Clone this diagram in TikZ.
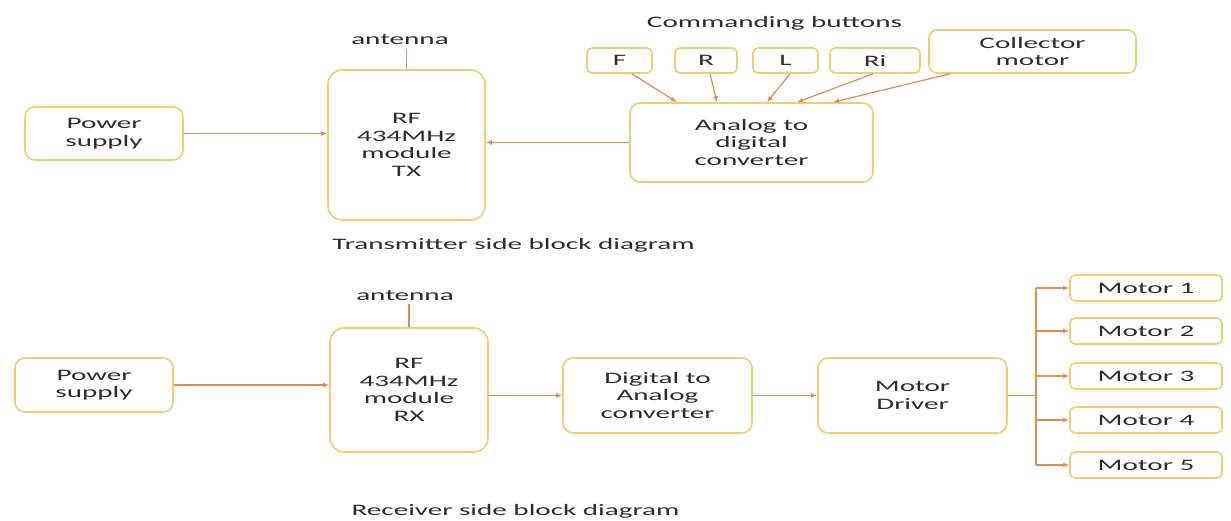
\documentclass[tikz,border=0pt]{standalone}
\usepackage{fontspec}
\setmainfont{Carlito}[FakeStretch=1.82]
\usetikzlibrary{arrows.meta,calc}
\definecolor{boxc}{RGB}{240,205,110}
\definecolor{arrc}{RGB}{226,140,80}
\definecolor{txt}{RGB}{45,45,45}
\begin{document}
\begin{tikzpicture}[x=1pt,y=-1pt,
  blk/.style={draw=boxc, line width=1.6pt, fill=white, rounded corners=10pt, align=center,
              text=txt, inner sep=0pt, font=\fontsize{16}{17.5}\selectfont},
  btn/.style={blk, rounded corners=5pt, minimum height=25pt},
  mot/.style={blk, rounded corners=5pt, minimum width=152pt, minimum height=26pt},
  lbl/.style={text=txt, inner sep=0pt, font=\fontsize{16}{17.5}\selectfont},
  wire/.style={draw=arrc, line width=1.2pt},
  conn/.style={wire, -{Latex[length=6pt,width=5pt]}}]
\fill[white] (0,0) rectangle (1231,521);
\useasboundingbox (0,0) rectangle (1231,521);

% ---------- Transmitter ----------
\node[blk, minimum width=158pt, minimum height=53pt] (ps1) at (104,133.5) {Power\\supply};
\node[blk, minimum width=157pt, minimum height=150pt, rounded corners=14pt] (rf1) at (406.5,145) {RF\\434MHz\\module\\TX};
\node[lbl] (ant1) at (400,40) {antenna};
\coordinate (a1) at ($(rf1.north)+(0,-20)$);
\draw[wire] (rf1.north) -- (a1);
\node[blk, minimum width=243pt, minimum height=79pt] (adc) at (751.5,142.5) {Analog to\\digital\\converter};
\node[btn, minimum width=65pt] (bF) at (619.5,60.5) {F};
\node[btn, minimum width=62pt] (bR) at (706,60.5) {R};
\node[btn, minimum width=65pt] (bL) at (785.5,60.5) {L};
\node[btn, minimum width=90pt] (bRi) at (875,60.5) {Ri};
\node[btn, minimum width=207pt, minimum height=43pt, rounded corners=8pt] (col) at (1032.5,51.5) {Collector\\motor};
\node[lbl] (cmd) at (774.5,23) {Commanding buttons};
\node[lbl] (cap1) at (513.5,245) {Transmitter side block diagram};

\draw[conn] (ps1.east) -- (ps1.east -| rf1.west);
\draw[conn] (adc.west) -- (adc.west -| rf1.east);
\draw[conn] ($(bF.south)+(12.5,0)$) -- ($(adc.north)+(-74.5,0)$);
\draw[conn] ($(bR.south)+(4,0)$) -- ($(adc.north)+(-34.5,0)$);
\draw[conn] ($(bL.south)+(4.5,0)$) -- ($(adc.north)+(15.5,0)$);
\draw[conn] ($(bRi.south)+(-2,0)$) -- ($(adc.north)+(45.5,0)$);
\draw[conn] ($(col.south)+(-82.5,0)$) -- ($(adc.north)+(81.5,0)$);

% ---------- Receiver ----------
\node[blk, minimum width=158pt, minimum height=54pt] (ps2) at (94,385) {Power\\supply};
\node[blk, minimum width=158pt, minimum height=124pt, rounded corners=14pt] (rf2) at (409,390) {RF\\434MHz\\module\\RX};
\node[lbl] (ant2) at (405,295) {antenna};
\coordinate (a2) at ($(rf2.north)+(0,-23)$);
\draw[wire] (rf2.north) -- (a2);
\node[blk, minimum width=189pt, minimum height=75pt] (dac) at (657.5,395.5) {Digital to\\Analog\\converter};
\node[blk, minimum width=189pt, minimum height=75pt] (md) at (912.5,395.5) {Motor\\Driver};
\node[mot] (m1) at (1146,288) {Motor 1};
\node[mot] (m2) at (1146,331) {Motor 2};
\node[mot] (m3) at (1146,376) {Motor 3};
\node[mot] (m4) at (1146,420) {Motor 4};
\node[mot] (m5) at (1146,465) {Motor 5};
\node[lbl] (cap2) at (515.5,511) {Receiver side block diagram};

\draw[conn] (ps2.east) -- (ps2.east -| rf2.west);
\draw[conn] (rf2.east |- dac.west) -- (dac.west);
\draw[conn] (dac.east) -- (md.west);
\coordinate (bus) at (1036,393);
\draw[wire] (md.east) -- (md.east -| bus);
\draw[wire] (bus |- m1.west) -- (bus |- m5.west);
\foreach \i in {1,...,5}{\draw[conn] (bus |- m\i.west) -- (m\i.west);}
\end{tikzpicture}
\end{document}
